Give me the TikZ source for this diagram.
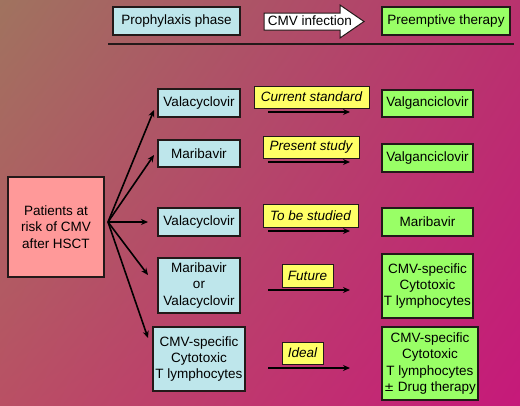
\documentclass[tikz,border=0pt]{standalone}
\usepackage{fontspec}
\setmainfont{Liberation Sans}
\usetikzlibrary{arrows.meta,shadings}
\definecolor{bgTL}{RGB}{160,115,95}
\definecolor{bgTR}{RGB}{185,50,110}
\definecolor{bgBL}{RGB}{185,80,100}
\definecolor{bgBR}{RGB}{198,25,122}
\definecolor{boxblue}{RGB}{190,230,235}
\definecolor{boxgreen}{RGB}{153,255,102}
\definecolor{boxyellow}{RGB}{255,255,102}
\definecolor{boxpink}{RGB}{255,153,153}
\definecolor{edge}{RGB}{35,25,25}
\begin{document}
\begin{tikzpicture}[x=1pt,y=-1pt,
  every node/.style={font=\fontsize{13.5}{16.3}\selectfont, inner sep=0pt, align=center, text=black},
  basebox/.style={draw=edge, line width=1.3pt, rectangle},
  bluebox/.style={basebox, fill=boxblue},
  greenbox/.style={basebox, fill=boxgreen},
  yellowbox/.style={draw=edge, line width=1pt, fill=boxyellow, font=\fontsize{13.5}{16.3}\selectfont\itshape},
  pinkbox/.style={basebox, fill=boxpink},
  fanarrow/.style={line width=1.6pt, -{Stealth[length=7pt,width=6pt]}},
  steparrow/.style={line width=2pt, -{Stealth[length=7pt,width=6pt]}}]
\useasboundingbox (0,0) rectangle (520,405);
\shade[upper left=bgTL, upper right=bgTR, lower left=bgBL, lower right=bgBR] (0,0) rectangle (520,405);

% header
\node[bluebox, minimum width=127pt, minimum height=28pt] (proph) at (176.5,21) {Prophylaxis phase};
\draw[draw=edge, line width=1pt, fill=white] (264,13) -- (340,13) -- (340,5) -- (364,21.5) -- (340,38) -- (340,30) -- (264,30) -- cycle;
\node (cmv) at (310,21) {CMV infection};
\node[greenbox, minimum width=128pt, minimum height=28pt] (pre) at (446,21) {Preemptive therapy};
\draw[draw=edge, line width=1.2pt] (108,44) -- (514,44);

% patients
\node[pinkbox, minimum width=96pt, minimum height=100pt] (pat) at (56,227) {Patients at\\risk of CMV\\after HSCT};

% prophylaxis column
\node[bluebox, minimum width=82pt, minimum height=28pt] (b1) at (199,103) {Valacyclovir};
\node[bluebox, minimum width=82pt, minimum height=27pt] (b2) at (199,153.5) {Maribavir};
\node[bluebox, minimum width=82pt, minimum height=28pt] (b3) at (199,222) {Valacyclovir};
\node[bluebox, minimum width=82pt, minimum height=55pt] (b4) at (199,285.5) {Maribavir\\or\\Valacyclovir};
\node[bluebox, minimum width=92pt, minimum height=64pt] (b5) at (199,359) {CMV-specific\\Cytotoxic\\T lymphocytes};

% labels
\node[yellowbox, minimum width=115pt, minimum height=22pt] (y1) at (311.5,97) {Current standard};
\node[yellowbox, minimum width=96pt, minimum height=22pt] (y2) at (311,147) {Present study};
\node[yellowbox, minimum width=95pt, minimum height=23pt] (y3) at (310.5,215.5) {To be studied};
\node[yellowbox, minimum width=51pt, minimum height=23pt] (y4) at (307.5,275.5) {Future};
\node[yellowbox, minimum width=41pt, minimum height=22pt] (y5) at (302.5,353) {Ideal};

% preemptive column
\node[greenbox, minimum width=91pt, minimum height=27pt] (g1) at (427.5,103.5) {Valganciclovir};
\node[greenbox, minimum width=91pt, minimum height=28pt] (g2) at (427.5,158) {Valganciclovir};
\node[greenbox, minimum width=91pt, minimum height=28pt] (g3) at (427.5,222) {Maribavir};
\node[greenbox, minimum width=91pt, minimum height=64pt] (g4) at (427.5,286) {CMV-specific\\Cytotoxic\\T lymphocytes};
\node[greenbox, minimum width=96pt, minimum height=73pt] (g5) at (430,363.5) {CMV-specific\\Cytotoxic\\T lymphocytes\\{\fontspec{DejaVu Sans}\fontsize{12}{16.3}\selectfont ±} Drug therapy};

% fan arrows
\coordinate (fan) at (108,222);
\coordinate (t1) at (154,110);
\coordinate (t2) at (154,155);
\coordinate (t3) at (148,222);
\coordinate (t4) at (148,275);
\coordinate (t5) at (148,338);
\foreach \t in {t1,t2,t3,t4,t5} \draw[fanarrow] (fan) -- (\t);

% step arrows
\foreach \i/\yy in {1/112,2/162,3/231,4/290,5/368} {
  \coordinate (s\i) at (268,\yy);
  \coordinate (e\i) at (350,\yy);
  \draw[steparrow] (s\i) -- (e\i);
}
\end{tikzpicture}
\end{document}
